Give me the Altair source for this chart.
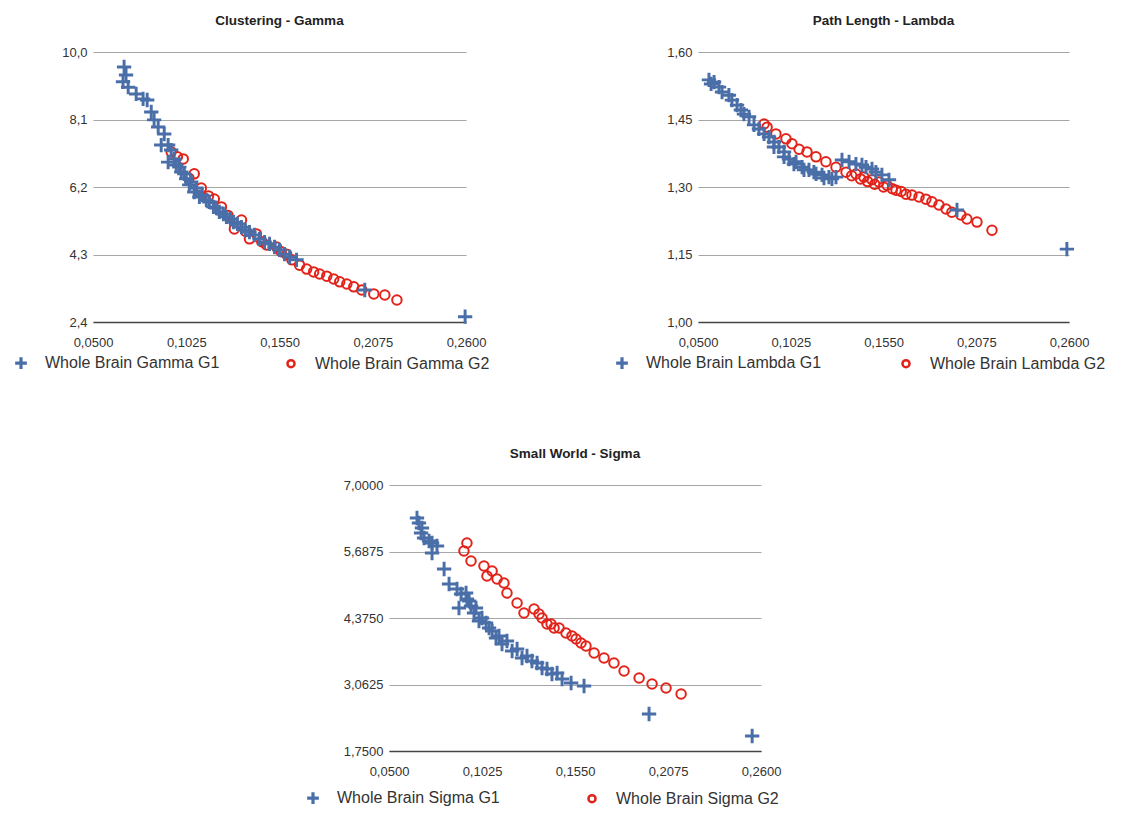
import altair as alt
import pandas as pd

BLUE = "#4A6FA8"
RED = "#E2231A"
CROSS = "M-1.3,-0.1H1.3V0.1H-1.3Z M-0.1,-1.3H0.1V1.3H-0.1Z"
FONT = "Liberation Sans"
X_TICKS = [0.05, 0.1025, 0.155, 0.2075, 0.26]

# ---------------- Clustering - Gamma ----------------
gamma_g1_x = [0.0675, 0.0686, 0.0669, 0.0698, 0.0743, 0.0782, 0.0805, 0.0828, 0.0844, 0.0867,
              0.0901, 0.0923, 0.0884, 0.0940, 0.0957, 0.0923, 0.0969, 0.0986, 0.0997, 0.1014,
              0.1025, 0.1042, 0.1053, 0.1070, 0.1082, 0.1099, 0.1115, 0.1138, 0.1155, 0.1178,
              0.1195, 0.1211, 0.1234, 0.1251, 0.1274, 0.1291, 0.1313, 0.1336, 0.1358, 0.1381,
              0.1409, 0.1437, 0.1466, 0.1494, 0.1522, 0.1550, 0.1578, 0.1607, 0.1646, 0.2030,
              0.2595]
gamma_g1_y = [9.58, 9.35, 9.16, 9.01, 8.82, 8.68, 8.65, 8.31, 8.09, 7.89,
              7.69, 7.38, 7.38, 7.24, 6.99, 6.90, 6.82, 6.76, 6.62, 6.57,
              6.43, 6.26, 6.34, 6.06, 6.17, 5.92, 5.97, 5.83, 5.78, 5.64,
              5.61, 5.50, 5.44, 5.36, 5.30, 5.21, 5.16, 5.07, 4.99, 4.93,
              4.85, 4.74, 4.65, 4.60, 4.51, 4.43, 4.31, 4.23, 4.15, 3.30,
              2.55]
gamma_g2_x = [0.0940, 0.0975, 0.1008, 0.1040, 0.1070, 0.1110, 0.1150, 0.1183, 0.1223, 0.1260,
              0.1296, 0.1336, 0.1360, 0.1381, 0.1420, 0.1450, 0.1477, 0.1533, 0.1560, 0.1590,
              0.1620, 0.1663, 0.1703, 0.1742, 0.1776, 0.1816, 0.1855, 0.1889, 0.1929, 0.1968,
              0.2013, 0.2081, 0.2143, 0.2211]
gamma_g2_y = [7.19, 7.05, 6.99, 6.45, 6.57, 6.17, 5.95, 5.86, 5.64, 5.40,
              5.02, 5.27, 4.95, 4.74, 4.88, 4.66, 4.57, 4.51, 4.38, 4.31,
              4.15, 4.00, 3.89, 3.81, 3.75, 3.69, 3.61, 3.53, 3.47, 3.39,
              3.30, 3.19, 3.16, 3.02]

# ---------------- Path Length - Lambda ----------------
lambda_g1_x = [0.0562, 0.0591, 0.0574, 0.0619, 0.0636, 0.0675, 0.0692, 0.0721, 0.0743, 0.0760,
               0.0789, 0.0817, 0.0845, 0.0874, 0.0902, 0.0930, 0.0930, 0.0958, 0.0987, 0.0987,
               0.1015, 0.1043, 0.1055, 0.1089, 0.1100, 0.1128, 0.1156, 0.1168, 0.1202, 0.1213,
               0.1241, 0.1258, 0.1281, 0.1315, 0.1355, 0.1394, 0.1428, 0.1451, 0.1485, 0.1507,
               0.1541, 0.1581, 0.1966, 0.2588]
lambda_g1_y = [1.538, 1.533, 1.529, 1.522, 1.511, 1.504, 1.493, 1.482, 1.471, 1.462,
               1.456, 1.438, 1.429, 1.418, 1.411, 1.400, 1.389, 1.389, 1.378, 1.367,
               1.362, 1.351, 1.356, 1.344, 1.338, 1.338, 1.333, 1.329, 1.327, 1.320,
               1.322, 1.318, 1.322, 1.360, 1.356, 1.351, 1.349, 1.344, 1.340, 1.333,
               1.327, 1.316, 1.249, 1.162]
lambda_g2_x = [0.0874, 0.0891, 0.0941, 0.0998, 0.1032, 0.1072, 0.1117, 0.1168, 0.1224, 0.1281,
               0.1338, 0.1370, 0.1394, 0.1420, 0.1439, 0.1460, 0.1485, 0.1500, 0.1524, 0.1550,
               0.1570, 0.1600, 0.1621, 0.1650, 0.1677, 0.1711, 0.1751, 0.1790, 0.1824, 0.1864,
               0.1904, 0.1937, 0.1988, 0.2022, 0.2079, 0.2164]
lambda_g2_y = [1.440, 1.433, 1.418, 1.407, 1.396, 1.384, 1.378, 1.367, 1.356, 1.344,
               1.333, 1.325, 1.329, 1.318, 1.322, 1.312, 1.316, 1.306, 1.311, 1.300,
               1.304, 1.296, 1.293, 1.290, 1.284, 1.282, 1.278, 1.273, 1.267, 1.260,
               1.251, 1.244, 1.238, 1.229, 1.222, 1.204]

# ---------------- Small World - Sigma ----------------
sigma_g1_x = [0.0658, 0.0669, 0.0686, 0.0681, 0.0698, 0.0726, 0.0743, 0.0771, 0.0743, 0.0811,
              0.0839, 0.0884, 0.0907, 0.0935, 0.0895, 0.0940, 0.0952, 0.0963, 0.0980, 0.0991,
              0.1008, 0.1025, 0.1048, 0.1065, 0.1082, 0.1104, 0.1121, 0.1138, 0.1166, 0.1195,
              0.1223, 0.1251, 0.1279, 0.1307, 0.1336, 0.1364, 0.1392, 0.1420, 0.1449, 0.1477,
              0.1528, 0.1601, 0.1968, 0.2550]
sigma_g1_y = [6.349, 6.250, 6.151, 6.053, 5.954, 5.895, 5.855, 5.796, 5.658, 5.342,
              5.046, 4.947, 4.849, 4.868, 4.572, 4.750, 4.711, 4.612, 4.474, 4.572,
              4.316, 4.375, 4.276, 4.178, 4.118, 3.980, 4.020, 3.862, 3.921, 3.724,
              3.763, 3.586, 3.625, 3.526, 3.487, 3.388, 3.368, 3.270, 3.290, 3.171,
              3.092, 3.033, 2.480, 2.046]
sigma_g2_x = [0.0940, 0.0923, 0.0963, 0.1036, 0.1082, 0.1053, 0.1110, 0.1149, 0.1166, 0.1223,
              0.1262, 0.1319, 0.1347, 0.1364, 0.1392, 0.1415, 0.1432, 0.1460, 0.1499, 0.1533,
              0.1556, 0.1584, 0.1612, 0.1658, 0.1714, 0.1770, 0.1827, 0.1912, 0.1985, 0.2064,
              0.2149]
sigma_g2_y = [5.855, 5.697, 5.500, 5.401, 5.303, 5.204, 5.145, 5.066, 4.868, 4.671,
              4.474, 4.553, 4.454, 4.375, 4.257, 4.257, 4.178, 4.178, 4.079, 4.020,
              3.961, 3.882, 3.822, 3.684, 3.586, 3.487, 3.329, 3.191, 3.072, 2.993,
              2.875]


def panel(title, x1, y1, x2, y2, n1, n2, ydom, yticks, ydec, width, height, legx, legy, colpad):
    df = pd.concat([
        pd.DataFrame({"x": x2, "y": y2, "s": n2}),
        pd.DataFrame({"x": x1, "y": y1, "s": n1}),
    ], ignore_index=True)
    dom = [n1, n2]
    leg = alt.Legend(
        title=None, orient="none", legendX=legx, legendY=legy, direction="horizontal",
        labelFont=FONT, labelFontSize=16, labelColor="#333333", labelLimit=400,
        symbolSize=50, symbolStrokeWidth=2.5, labelOffset=16, columnPadding=colpad,
    )
    return alt.Chart(df, title=alt.Title(
        title, font=FONT, fontSize=13.5, fontWeight="bold", color="#222222", offset=19,
        anchor="middle")).mark_point(strokeWidth=2, opacity=1, size=90).encode(
        x=alt.X("x:Q", scale=alt.Scale(domain=[0.05, 0.26], nice=False, zero=False),
                axis=alt.Axis(values=X_TICKS, title=None, grid=False, ticks=False, tickSize=0,
                              domain=True, domainColor="#444444", domainWidth=1.5,
                              labelExpr="replace(format(datum.value, '.4f'), '.', ',')",
                              labelFont=FONT, labelFontSize=13, labelColor="#333333",
                              labelPadding=14, labelFlush=False)),
        y=alt.Y("y:Q", scale=alt.Scale(domain=ydom, nice=False, zero=False),
                axis=alt.Axis(values=yticks, title=None, grid=True, gridColor="#A6A6A6",
                              ticks=False, tickSize=0, domain=False,
                              labelExpr="replace(format(datum.value, '.%df'), '.', ',')" % ydec,
                              labelFont=FONT, labelFontSize=13, labelColor="#333333",
                              labelPadding=6)),
        shape=alt.Shape("s:N", scale=alt.Scale(domain=dom, range=[CROSS, "circle"]), legend=leg),
        fill=alt.Fill("s:N", scale=alt.Scale(domain=dom, range=[BLUE, "transparent"]), legend=leg),
        stroke=alt.Stroke("s:N", scale=alt.Scale(domain=dom, range=[BLUE, RED]), legend=leg),
    ).properties(width=width, height=height)


p1 = panel("Clustering - Gamma", gamma_g1_x, gamma_g1_y, gamma_g2_x, gamma_g2_y,
           "Whole Brain Gamma G1", "Whole Brain Gamma G2",
           [2.4, 10.0], [2.4, 4.3, 6.2, 8.1, 10.0], 1, 373, 270, -80, 303, 62)
p2 = panel("Path Length - Lambda", lambda_g1_x, lambda_g1_y, lambda_g2_x, lambda_g2_y,
           "Whole Brain Lambda G1", "Whole Brain Lambda G2",
           [1.0, 1.6], [1.0, 1.15, 1.30, 1.45, 1.60], 2, 371, 270, -84, 303, 75)
p3 = panel("Small World - Sigma", sigma_g1_x, sigma_g1_y, sigma_g2_x, sigma_g2_y,
           "Whole Brain Sigma G1", "Whole Brain Sigma G2",
           [1.75, 7.0], [1.75, 3.0625, 4.375, 5.6875, 7.0], 4, 372, 266, -84, 305, 83)

spacer = alt.Chart(pd.DataFrame({"v": [0]})).mark_point(opacity=0).properties(width=212, height=10)

indep = dict(shape="independent", fill="independent", stroke="independent")

top = alt.hconcat(p1, p2, spacing=124).resolve_scale(**indep)
bottom = alt.hconcat(spacer, p3, spacing=0).resolve_scale(**indep)

chart = alt.vconcat(top, bottom, spacing=73).resolve_scale(**indep).configure_view(stroke=None)

chart.save("out.html", embed_options={"renderer": "svg", "actions": False})
